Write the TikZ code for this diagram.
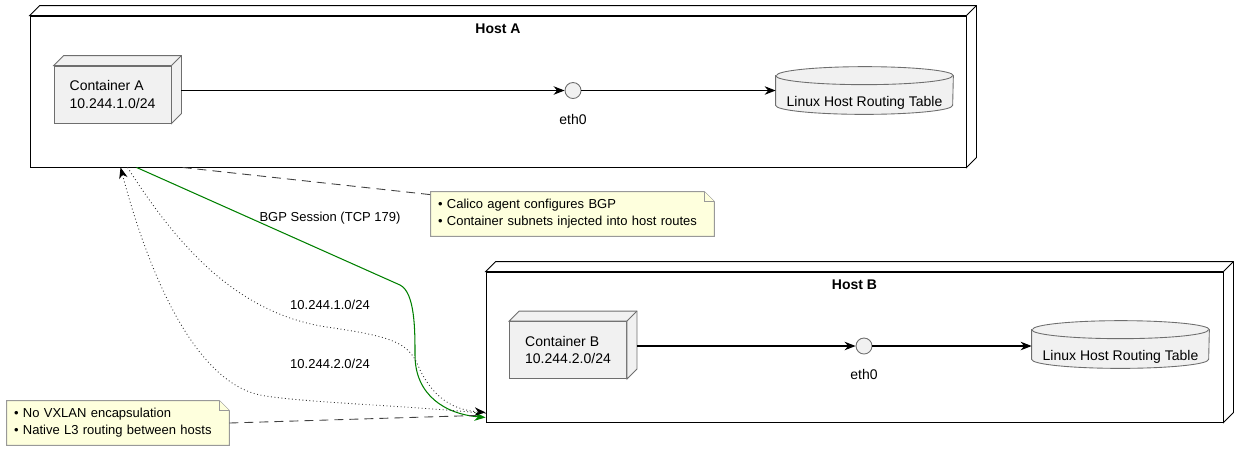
\documentclass[tikz,border=0pt]{standalone}
\usepackage{fontspec}
\setmainfont{Liberation Sans}
\usepackage{xcolor}
\usepackage{tikz}
\usetikzlibrary{arrows.meta, positioning, backgrounds}

\definecolor{boxgray}{HTML}{F1F1F1}
\definecolor{edgegray}{HTML}{6E6E6E}
\definecolor{notefill}{HTML}{FEFFDD}
\definecolor{notegray}{HTML}{999999}
\definecolor{bgpgreen}{HTML}{008000}

% top and right faces of a 3D box
\newcommand{\boxdepth}[2]{%
  \filldraw[#2] (#1.north west) -- ++(0.2,0.2) -- ([shift={(0.2,0.2)}]#1.north east)
    -- ([shift={(0.2,0.2)}]#1.south east) -- (#1.south east) -- (#1.north east) -- cycle;
  \draw[#2] (#1.north east) -- ++(0.2,0.2);
}
% cylinder behind a routing table node
\newcommand{\dbcyl}[1]{%
  \filldraw[dbshape] ([yshift=-0.18cm]#1.north west) -- ([yshift=0.18cm]#1.south west)
    arc[start angle=180, end angle=360, x radius=1.77cm, y radius=0.18cm]
    -- ([yshift=-0.18cm]#1.north east)
    arc[start angle=0, end angle=180, x radius=1.77cm, y radius=0.18cm] -- cycle;
  \draw[dbshape] ([yshift=-0.18cm]#1.north west)
    arc[start angle=180, end angle=360, x radius=1.77cm, y radius=0.18cm];
}
% note sheet with folded corner
\newcommand{\notefold}[1]{%
  \filldraw[notesheet] (#1.south west) -- (#1.north west) -- ([xshift=-0.2cm]#1.north east)
    -- ([yshift=-0.2cm]#1.north east) -- (#1.south east) -- cycle;
  \draw[notesheet] ([xshift=-0.2cm]#1.north east) |- ([yshift=-0.2cm]#1.north east);
}

\begin{document}
\begin{tikzpicture}[
  font=\fontsize{7.97pt}{9.7pt}\selectfont,
  host/.style={draw=black, line width=0.5pt, inner sep=0pt},
  hostdepth/.style={draw=black, fill=white, line width=0.5pt},
  hosttitle/.style={font=\fontsize{7.97pt}{9.7pt}\selectfont\bfseries, inner sep=0pt},
  container/.style={draw=edgegray, fill=boxgray, line width=0.5pt, minimum width=2.34cm, minimum height=1.14cm, align=left, inner sep=0pt},
  containerdepth/.style={draw=edgegray, fill=boxgray, line width=0.5pt},
  iface/.style={circle, draw=edgegray, fill=boxgray, line width=0.5pt, minimum size=0.32cm, inner sep=0pt},
  rtable/.style={minimum width=3.54cm, inner sep=0pt, text height=0.78cm, text depth=0.16cm},
  dbshape/.style={draw=edgegray, fill=boxgray, line width=0.5pt},
  note/.style={font=\fontsize{7.4pt}{9.6pt}\selectfont, minimum height=0.88cm, inner xsep=0.14cm, inner ysep=0pt, align=left},
  notesheet/.style={draw=notegray, fill=notefill, line width=0.5pt},
  edgelabel/.style={font=\fontsize{7.4pt}{9pt}\selectfont},
  flow/.style={-{Stealth[length=0.22cm,width=0.17cm,inset=0.07cm]}, line width=0.6pt},
  notelink/.style={draw=black!75, line width=0.5pt, dash pattern=on 0.18cm off 0.12cm},
  route/.style={draw=black!80, line width=0.5pt, dash pattern=on 0.5pt off 1.5pt, -{Stealth[length=0.22cm,width=0.17cm,inset=0.07cm,black]}},
  bgp/.style={draw=bgpgreen, line width=0.6pt, -{Stealth[length=0.22cm,width=0.17cm,inset=0.07cm]}},
]
\useasboundingbox (0,0) rectangle (24.98,-9.02);

% Host A
\node[host, minimum width=18.72cm, minimum height=3.02cm] (hA) at (9.96,-1.83) {};
\boxdepth{hA}{hostdepth}
\node[hosttitle, below=0.16cm of hA.north] (hAtitle) {Host A};
\node[container] (cA) at (2.25,-1.89) {Container A\\10.244.1.0/24};
\boxdepth{cA}{containerdepth}
\node[iface] (ethA) at (11.46,-1.81) {};
\node[inner sep=0pt, below=0.3cm of ethA] (ethAlbl) {eth0};
\node[rtable] (rtA) at (17.29,-1.81) {Linux Host Routing Table};

% Host B
\node[host, minimum width=14.74cm, minimum height=3.0cm] (hB) at (17.09,-6.94) {};
\boxdepth{hB}{hostdepth}
\node[hosttitle, below=0.16cm of hB.north] (hBtitle) {Host B};
\node[container] (cB) at (11.36,-7.0) {Container B\\10.244.2.0/24};
\boxdepth{cB}{containerdepth}
\node[iface] (ethB) at (17.28,-6.92) {};
\node[inner sep=0pt, below=0.3cm of ethB] (ethBlbl) {eth0};
\node[rtable] (rtB) at (22.41,-6.89) {Linux Host Routing Table};

% Notes
\node[note, text width=5.38cm] (noteBgp) at (11.45,-4.28)
  {• Calico agent configures BGP\\• Container subnets injected into host routes};
\node[note, text width=4.16cm] (noteL3) at (2.36,-8.46)
  {• No VXLAN encapsulation\\• Native L3 routing between hosts};

\begin{scope}[on background layer]
  \dbcyl{rtA}
  \dbcyl{rtB}
  \notefold{noteBgp}
  \notefold{noteL3}
\end{scope}

% Inside the hosts
\draw[flow] (cA.east |- ethA) ++(0.2,0) -- (ethA);
\draw[flow] (ethA) -- (rtA.west |- ethA);
\draw[flow] (cB.east |- ethB) ++(0.2,0) -- (ethB);
\draw[flow] (ethB) -- (rtB.west |- ethB);

% Between the hosts
\draw[bgp] ([xshift=2.14cm]hA.south west) -- (8.0,-5.7)
  .. controls (8.3,-5.85) and (8.3,-6.6) .. (8.3,-7.1)
  .. controls (8.3,-7.9) and (8.9,-8.28) .. ([yshift=0.1cm]hB.south west);
\node[edgelabel] (bgplbl) at (6.6,-4.36) {BGP Session (TCP 179)};

\draw[route] ([xshift=1.96cm]hA.south west)
  .. controls (3.6,-5.0) and (4.8,-6.3) .. (6.6,-6.55)
  .. controls (8.0,-6.75) and (8.2,-6.9) .. (8.4,-7.4)
  .. controls (8.7,-8.0) and (9.1,-8.2) .. ([yshift=0.2cm]hB.south west);
\node[edgelabel] (routeAlbl) at (6.6,-6.1) {10.244.1.0/24};

\draw[route] ([yshift=0.18cm]hB.south west)
  .. controls (8.0,-8.1) and (6.0,-8.05) .. (5.2,-7.9)
  .. controls (3.8,-7.6) and (2.9,-5.2) .. ([xshift=1.82cm]hA.south west);
\node[edgelabel] (routeBlbl) at (6.6,-7.28) {10.244.2.0/24};

% Note links
\draw[notelink] ([xshift=3.06cm]hA.south west) -- ([yshift=-0.06cm]noteBgp.north west);
\draw[notelink] (noteL3.east) -- ([xshift=-0.18cm,yshift=0.14cm]hB.south west);

\end{tikzpicture}
\end{document}
